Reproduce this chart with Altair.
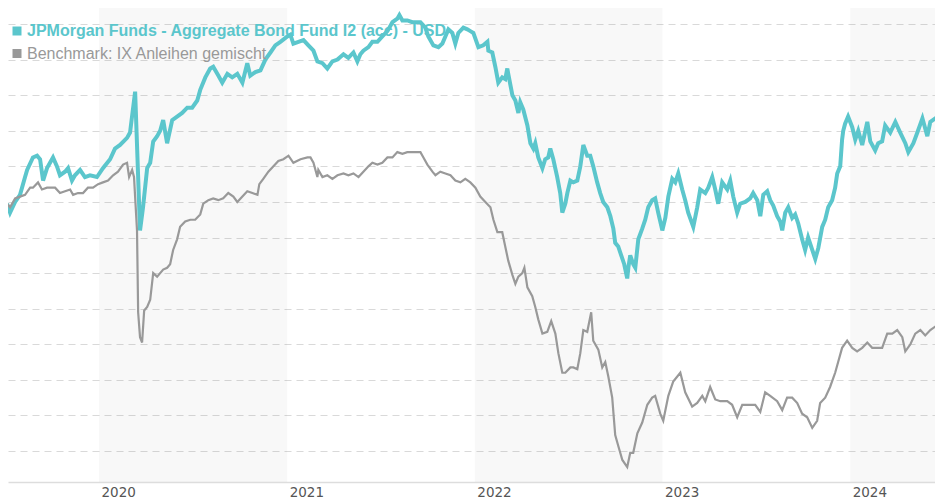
import altair as alt
import numpy as np
import pandas as pd

# ---------------- data ----------------
fund_name = "JPMorgan Funds - Aggregate Bond Fund I2 (acc) - USD"
bench_name = "Benchmark: IX Anleihen gemischt"

# decimal years and indexed values
fund_years = [
    2019.510, 2019.526, 2019.553, 2019.579, 2019.606, 2019.617, 2019.648, 2019.670, 2019.686, 2019.702,
    2019.723, 2019.739, 2019.755, 2019.776, 2019.792, 2019.819, 2019.835, 2019.856, 2019.872, 2019.899,
    2019.925, 2019.952, 2019.989, 2020.021, 2020.059, 2020.085, 2020.112, 2020.149, 2020.165, 2020.192,
    2020.218, 2020.234, 2020.256, 2020.272, 2020.288, 2020.309, 2020.325, 2020.341, 2020.362, 2020.389,
    2020.415, 2020.442, 2020.469, 2020.495, 2020.522, 2020.538, 2020.565, 2020.591, 2020.607, 2020.634,
    2020.655, 2020.682, 2020.708, 2020.735, 2020.762, 2020.788, 2020.804, 2020.831, 2020.858, 2020.884,
    2020.911, 2020.937, 2020.964, 2021.001, 2021.017, 2021.033, 2021.060, 2021.087, 2021.113, 2021.140,
    2021.161, 2021.188, 2021.214, 2021.241, 2021.268, 2021.300, 2021.326, 2021.353, 2021.374, 2021.390,
    2021.406, 2021.433, 2021.454, 2021.481, 2021.507, 2021.534, 2021.561, 2021.587, 2021.598, 2021.614,
    2021.640, 2021.667, 2021.694, 2021.710, 2021.736, 2021.752, 2021.779, 2021.806, 2021.827, 2021.843,
    2021.859, 2021.880, 2021.896, 2021.912, 2021.939, 2021.960, 2021.976, 2021.992, 2022.019, 2022.045,
    2022.067, 2022.072, 2022.093, 2022.109, 2022.125, 2022.146, 2022.162, 2022.173, 2022.178, 2022.200,
    2022.216, 2022.232, 2022.242, 2022.258, 2022.280, 2022.296, 2022.312, 2022.322, 2022.338, 2022.360,
    2022.375, 2022.391, 2022.402, 2022.418, 2022.439, 2022.455, 2022.466, 2022.482, 2022.493, 2022.509,
    2022.525, 2022.546, 2022.562, 2022.578, 2022.599, 2022.615, 2022.631, 2022.652, 2022.668, 2022.684,
    2022.706, 2022.722, 2022.738, 2022.748, 2022.764, 2022.780, 2022.796, 2022.812, 2022.818, 2022.828,
    2022.844, 2022.855, 2022.871, 2022.892, 2022.908, 2022.924, 2022.945, 2022.961, 2022.977, 2022.999,
    2023.015, 2023.031, 2023.052, 2023.068, 2023.084, 2023.105, 2023.121, 2023.137, 2023.164, 2023.185,
    2023.201, 2023.228, 2023.244, 2023.265, 2023.281, 2023.297, 2023.318, 2023.345, 2023.361, 2023.377,
    2023.398, 2023.414, 2023.441, 2023.467, 2023.483, 2023.505, 2023.521, 2023.537, 2023.558, 2023.574,
    2023.590, 2023.611, 2023.627, 2023.638, 2023.654, 2023.670, 2023.691, 2023.707, 2023.723, 2023.744,
    2023.760, 2023.776, 2023.798, 2023.814, 2023.830, 2023.851, 2023.867, 2023.883, 2023.904, 2023.920,
    2023.931, 2023.947, 2023.957, 2023.963, 2023.973, 2023.989, 2024.011, 2024.027, 2024.043, 2024.064,
    2024.091, 2024.107, 2024.133, 2024.149, 2024.170, 2024.186, 2024.213, 2024.240, 2024.266, 2024.293,
    2024.309, 2024.336, 2024.357, 2024.384, 2024.410, 2024.426, 2024.453, 2024.479, 2024.495,
]
fund_values = [
    99.9, 99.4, 100.0, 100.4, 101.4, 101.8, 102.5, 102.6, 102.4, 101.2,
    101.9, 102.2, 102.5, 102.0, 101.5, 101.7, 101.9, 101.2, 101.5, 101.8,
    101.4, 101.5, 101.4, 101.9, 102.4, 103.0, 103.2, 103.6, 103.9, 106.2,
    98.4, 99.7, 101.9, 102.2, 103.4, 103.7, 104.0, 104.6, 103.3, 104.6,
    104.8, 105.0, 105.3, 105.3, 105.7, 106.3, 107.0, 107.5, 107.6, 107.1,
    106.7, 107.2, 107.0, 107.2, 106.7, 107.8, 107.1, 107.3, 107.4, 108.0,
    108.4, 108.8, 109.0, 109.3, 109.4, 108.9, 109.0, 109.1, 108.8, 108.5,
    107.9, 107.8, 107.5, 107.9, 108.0, 108.3, 108.1, 108.4, 107.9, 108.3,
    108.5, 108.7, 109.0, 109.0, 109.3, 109.6, 110.1, 110.3, 110.5, 110.2,
    110.2, 110.1, 110.1, 110.1, 109.8, 109.3, 108.8, 108.7, 108.9, 109.3,
    109.7, 109.5, 108.9, 109.5, 109.8, 109.7, 109.6, 109.5, 108.7, 108.8,
    109.0, 108.5, 108.4, 107.6, 106.7, 107.0, 106.9, 107.5, 107.2, 106.0,
    105.7, 105.0, 105.6, 105.2, 104.3, 103.3, 103.0, 103.3, 102.5, 101.9,
    102.4, 102.5, 103.0, 102.4, 101.4, 100.5, 99.4, 99.9, 100.5, 101.2,
    101.1, 101.2, 102.0, 103.2, 102.6, 102.6, 102.0, 101.1, 100.5, 100.0,
    99.7, 99.2, 98.5, 97.7, 97.5, 97.0, 96.5, 95.7, 96.3, 97.0,
    96.5, 96.3, 97.9, 98.5, 99.0, 99.7, 100.1, 100.2, 99.4, 98.4,
    99.1, 100.3, 101.3, 101.1, 101.6, 100.7, 100.1, 99.4, 98.6, 99.7,
    100.7, 100.5, 100.8, 101.4, 100.7, 99.9, 101.1, 100.7, 101.2, 100.3,
    99.4, 99.9, 100.0, 100.2, 100.5, 100.1, 99.2, 100.4, 100.6, 100.1,
    99.8, 99.2, 98.9, 98.4, 99.4, 99.7, 99.1, 99.3, 98.8, 97.9,
    97.3, 98.0, 97.3, 96.8, 97.4, 98.6, 99.0, 99.7, 100.1, 100.8,
    101.6, 102.0, 103.5, 104.0, 104.4, 104.8, 104.2, 103.5, 104.0, 103.2,
    104.5, 103.4, 102.9, 103.3, 103.4, 104.3, 103.9, 104.5, 103.9, 103.3,
    102.8, 103.3, 103.9, 104.7, 103.7, 104.5, 104.7, 104.8, 104.7,
]

bench_years = [
    2019.510, 2019.526, 2019.553, 2019.579, 2019.606, 2019.633, 2019.648, 2019.675, 2019.696, 2019.723,
    2019.750, 2019.766, 2019.792, 2019.819, 2019.846, 2019.862, 2019.888, 2019.915, 2019.941, 2019.968,
    2019.995, 2020.021, 2020.048, 2020.075, 2020.101, 2020.128, 2020.149, 2020.160, 2020.176, 2020.186,
    2020.202, 2020.208, 2020.218, 2020.229, 2020.240, 2020.256, 2020.272, 2020.288, 2020.309, 2020.341,
    2020.362, 2020.378, 2020.394, 2020.415, 2020.431, 2020.458, 2020.485, 2020.511, 2020.538, 2020.554,
    2020.581, 2020.607, 2020.634, 2020.660, 2020.687, 2020.714, 2020.735, 2020.762, 2020.788, 2020.815,
    2020.842, 2020.852, 2020.873, 2020.900, 2020.927, 2020.953, 2020.980, 2021.007, 2021.033, 2021.071,
    2021.108, 2021.124, 2021.140, 2021.161, 2021.166, 2021.188, 2021.214, 2021.241, 2021.268, 2021.300,
    2021.326, 2021.353, 2021.380, 2021.406, 2021.433, 2021.454, 2021.481, 2021.507, 2021.534, 2021.561,
    2021.587, 2021.614, 2021.640, 2021.667, 2021.694, 2021.710, 2021.726, 2021.747, 2021.774, 2021.790,
    2021.816, 2021.843, 2021.870, 2021.896, 2021.923, 2021.949, 2021.976, 2022.003, 2022.029, 2022.056,
    2022.083, 2022.099, 2022.120, 2022.146, 2022.162, 2022.178, 2022.200, 2022.216, 2022.232, 2022.253,
    2022.264, 2022.280, 2022.306, 2022.322, 2022.338, 2022.360, 2022.386, 2022.407, 2022.429, 2022.445,
    2022.466, 2022.482, 2022.509, 2022.525, 2022.546, 2022.562, 2022.578, 2022.599, 2022.620, 2022.631,
    2022.658, 2022.679, 2022.695, 2022.711, 2022.732, 2022.748, 2022.764, 2022.786, 2022.812, 2022.828,
    2022.844, 2022.866, 2022.892, 2022.919, 2022.945, 2022.961, 2022.988, 2023.004, 2023.031, 2023.057,
    2023.095, 2023.121, 2023.158, 2023.185, 2023.212, 2023.228, 2023.254, 2023.281, 2023.308, 2023.345,
    2023.371, 2023.398, 2023.425, 2023.457, 2023.494, 2023.521, 2023.547, 2023.574, 2023.611, 2023.638,
    2023.664, 2023.691, 2023.718, 2023.744, 2023.771, 2023.798, 2023.824, 2023.840, 2023.867, 2023.893,
    2023.920, 2023.936, 2023.957, 2023.984, 2024.011, 2024.037, 2024.064, 2024.091, 2024.117, 2024.144,
    2024.170, 2024.197, 2024.224, 2024.250, 2024.277, 2024.293, 2024.320, 2024.346, 2024.373, 2024.399,
    2024.426, 2024.453, 2024.479, 2024.495,
]
bench_values = [
    99.9, 99.7, 100.2, 100.3, 100.4, 100.8, 100.8, 101.1, 100.7, 100.8,
    100.8, 100.8, 100.5, 100.6, 100.7, 100.4, 100.5, 100.5, 100.8, 100.8,
    101.0, 101.1, 101.2, 101.5, 101.7, 102.1, 102.2, 101.4, 101.8, 101.4,
    98.4, 93.8, 92.4, 92.1, 93.9, 94.1, 94.5, 96.0, 95.8, 96.2,
    96.3, 96.5, 97.3, 97.9, 98.6, 98.9, 99.0, 99.0, 99.3, 99.9,
    100.1, 100.2, 100.1, 100.2, 100.5, 100.3, 100.0, 100.3, 100.6, 100.5,
    100.4, 101.0, 101.3, 101.7, 102.0, 102.3, 102.4, 102.6, 102.2, 102.4,
    102.5, 102.5, 102.2, 101.4, 101.8, 101.4, 101.5, 101.3, 101.5, 101.6,
    101.5, 101.6, 101.4, 101.7, 102.0, 102.2, 102.1, 102.2, 102.5, 102.5,
    102.8, 102.7, 102.8, 102.8, 102.8, 102.8, 102.5, 102.1, 101.7, 101.5,
    101.7, 101.6, 101.5, 101.2, 101.1, 101.3, 101.1, 100.8, 100.3, 100.0,
    99.7, 99.0, 98.3, 98.3, 97.5, 96.7, 95.9, 95.4, 95.8, 96.0,
    96.3, 95.2, 94.7, 94.1, 93.4, 92.6, 92.7, 93.3, 92.6, 91.5,
    90.4, 90.4, 90.7, 90.7, 90.6, 91.5, 92.8, 92.7, 93.8, 92.2,
    91.7, 90.7, 91.0, 90.2, 89.0, 86.9, 86.3, 85.5, 85.1, 85.9,
    85.9, 87.0, 87.6, 88.6, 89.0, 89.1, 88.1, 87.7, 89.1, 89.9,
    90.4, 89.3, 88.5, 88.7, 89.1, 88.8, 89.6, 88.9, 88.8, 88.8,
    88.6, 87.9, 88.6, 88.6, 88.6, 88.2, 89.3, 89.1, 88.8, 88.3,
    89.0, 89.0, 88.7, 88.1, 87.9, 87.3, 87.7, 88.7, 89.0, 89.6,
    90.4, 91.0, 91.8, 92.2, 91.8, 91.6, 91.8, 92.1, 91.8, 91.8,
    91.8, 92.6, 92.6, 92.8, 92.4, 91.6, 92.0, 92.6, 92.8, 92.5,
    92.8, 93.0, 93.0, 92.9,
]

band_years = [2020, 2022, 2024]
year_ticks = [2020, 2021, 2022, 2023, 2024]
grid_values = list(range(86, 111, 2))

FUND_COLOR = "#5bc6cc"
BENCH_COLOR = "#999999"


def to_date(t):
    y = int(np.floor(t))
    start = pd.Timestamp(year=y, month=1, day=1)
    days = (pd.Timestamp(year=y + 1, month=1, day=1) - start).days
    return start + pd.Timedelta(days=(t - y) * days)


fund_df = pd.DataFrame({"date": [to_date(t) for t in fund_years], "value": fund_values})
bench_df = pd.DataFrame({"date": [to_date(t) for t in bench_years], "value": bench_values})
band_df = pd.DataFrame({
    "start": [pd.Timestamp(year=y, month=1, day=1) for y in band_years],
    "end": [pd.Timestamp(year=y + 1, month=1, day=1) for y in band_years],
})

W, H = 927, 474

x_scale = alt.Scale(domain=[alt.DateTime(year=2019, month=7, date=8),
                            alt.DateTime(year=2024, month=6, date=14)])
y_scale = alt.Scale(domain=[84.26, 110.90], nice=False, zero=False)

x_axis = alt.Axis(
    values=[alt.DateTime(year=y, month=1, date=1) for y in year_ticks],
    format="%Y", title=None, grid=False, ticks=False,
    labelAlign="left", labelBaseline="top", labelOffset=2, labelPadding=3,
    labelFont="DejaVu Sans", labelFontSize=13.5, labelColor="#555555",
    labelOverlap=False, labelFlush=False,
    domainColor="#dddddd", domainWidth=1.5,
)
y_axis = alt.Axis(
    values=grid_values, title=None, labels=False, ticks=False, domain=False,
    grid=True, gridDash=[7, 5], gridColor="#d9d9d9", gridWidth=1,
)

bands = alt.Chart(band_df).mark_rect(color="black", opacity=0.026, clip=True).encode(
    x=alt.X("start:T", scale=x_scale, axis=x_axis),
    x2="end:T",
    y=alt.value(0),
    y2=alt.value(H),
)

fund_line = alt.Chart(fund_df).mark_line(color=FUND_COLOR, strokeWidth=4, clip=True).encode(
    x=alt.X("date:T", scale=x_scale, axis=x_axis),
    y=alt.Y("value:Q", scale=y_scale, axis=y_axis),
)

bench_line = alt.Chart(bench_df).mark_line(color=BENCH_COLOR, strokeWidth=2.2, clip=True).encode(
    x=alt.X("date:T", scale=x_scale, axis=x_axis),
    y=alt.Y("value:Q", scale=y_scale, axis=y_axis),
)


def legend_item(label, color, bold, y_mark, y_text):
    d = pd.DataFrame({"label": [label]})
    mark = alt.Chart(d).mark_square(size=81, color=color, opacity=1, filled=True).encode(
        x=alt.value(9), y=alt.value(y_mark))
    txt = alt.Chart(d).mark_text(
        align="left", baseline="alphabetic", font="Liberation Sans", fontSize=16,
        fontWeight="bold" if bold else "normal", color=color,
    ).encode(x=alt.value(19), y=alt.value(y_text), text="label:N")
    return mark + txt


chart = alt.layer(
    bands,
    fund_line,
    bench_line,
    legend_item(fund_name, FUND_COLOR, True, 23, 28),
    legend_item(bench_name, BENCH_COLOR, False, 45.5, 51),
).properties(
    width=W, height=H,
    padding={"left": 0, "right": 0, "top": 0, "bottom": 0},
    background="white",
).configure_view(stroke=None)

chart.save("out.html", embed_options={"renderer": "svg", "actions": False})
